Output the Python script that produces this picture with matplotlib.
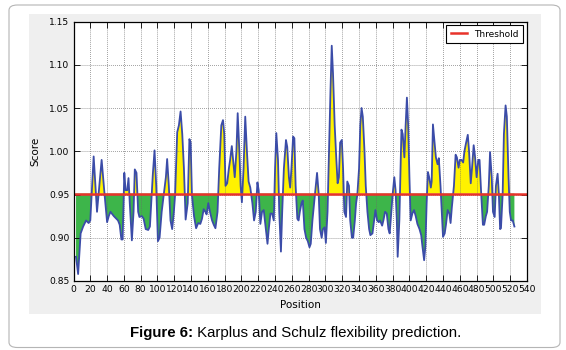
import matplotlib
matplotlib.use("Agg")
import matplotlib.pyplot as plt
import numpy as np
from matplotlib.patches import FancyBboxPatch, Rectangle

# Karplus & Schulz flexibility profile
positions = [3, 5.5, 8.5, 11.5, 15, 18, 20, 24, 28, 33.5, 37, 40, 42, 44, 48, 53, 55, 57, 58.5,
             60.5, 62, 64, 65.5, 67, 69.5, 71.5, 73, 75, 77, 78.5, 81.5, 83.5, 86, 89, 91,
             94.5, 96.5, 98.5, 100.5, 102.5, 105, 107.5, 110, 111.5, 113.5, 115.5, 117.5, 119.5,
             121, 123.5, 125.5, 127.5, 129.5, 131.5, 133.5, 136, 138, 139.5, 141, 143.5, 146,
             148.5, 151, 153, 155, 157, 158.5, 160.5, 162.5, 165, 167, 169, 171.5, 173.5, 176,
             178, 179.5, 181, 183, 185, 186.5, 188.5, 190.5, 192, 194, 195.5, 197.5, 199, 200.5,
             202.5, 204.5, 206.5, 208.5, 210.5, 213, 215, 217, 219, 220.5, 222.5, 224.5, 226.5,
             229, 231, 232.5, 234.5, 236.5, 238.5, 240, 241.5, 243.5, 245, 247, 248.5, 250.5,
             253, 254.5, 256.5, 258, 259.5, 261.5, 263, 264.5, 266.5, 268, 269.5, 271.5, 273,
             275, 277, 279, 281, 282.5, 284.5, 286.5, 288.5, 290, 292, 293.5, 295.5, 297, 299,
             300.5, 302.5, 304, 306, 307.5, 309, 311, 313, 314.5, 316, 317.5, 319.5, 321, 322.5,
             324.5, 326, 328, 329.5, 331.5, 333, 335, 336.5, 338, 340, 341.5, 343, 344.5, 346.5,
             348, 350, 352, 353.5, 356, 358, 359.5, 361.5, 363.5, 365, 367.5, 369, 371, 373, 375,
             376.5, 378.5, 380, 382, 383.5, 385, 386, 388, 389.5, 390.5, 392, 394, 395.5, 397,
             398.5, 400, 401.5, 403.5, 405.5, 407.5, 409.5, 412, 414, 415.5, 417.5, 419, 420.5,
             422, 423.5, 425.5, 426.5, 428, 430, 431.5, 433.5, 435, 437, 438.5, 440, 442, 443.5,
             445.5, 447.5, 449, 450.5, 453, 455, 456.5, 458.5, 460, 462, 464, 465.5, 467.5, 469.5,
             471, 473, 474.5, 476.5, 478, 480, 482, 483.5, 485.5, 487.5, 489, 491, 492.5, 494.5,
             496, 498, 499.5, 501.5, 503, 505, 506.5, 508, 509, 511, 512.5, 514.5, 516, 518,
             519.5, 521, 523, 525]
scores = [0.878, 0.858, 0.905, 0.913, 0.920, 0.917, 0.920, 0.994, 0.930, 0.990, 0.950, 0.918, 0.925,
          0.930, 0.925, 0.920, 0.915, 0.898, 0.898, 0.975, 0.955, 0.955, 0.969, 0.940, 0.897, 0.930,
          0.979, 0.975, 0.930, 0.924, 0.925, 0.922, 0.910, 0.909, 0.913, 0.974, 1.001, 0.960, 0.896,
          0.900, 0.930, 0.950, 0.970, 0.991, 0.960, 0.920, 0.910, 0.930, 0.950, 1.022, 1.030, 1.046,
          1.020, 0.980, 0.921, 0.940, 1.014, 1.010, 0.950, 0.925, 0.911, 0.917, 0.916, 0.922, 0.933,
          0.930, 0.927, 0.940, 0.930, 0.920, 0.915, 0.911, 0.930, 0.980, 1.030, 1.036, 1.020, 0.960,
          0.963, 0.980, 0.990, 1.006, 0.985, 0.970, 1.000, 1.044, 1.000, 0.960, 0.941, 0.980, 1.040,
          1.000, 0.965, 0.958, 0.940, 0.920, 0.930, 0.964, 0.955, 0.916, 0.930, 0.932, 0.910, 0.893,
          0.910, 0.928, 0.928, 0.920, 0.980, 1.021, 0.990, 0.930, 0.884, 0.930, 0.980, 1.013, 1.005,
          0.970, 0.958, 0.980, 1.017, 1.015, 0.960, 0.922, 0.920, 0.930, 0.940, 0.943, 0.910, 0.900,
          0.896, 0.889, 0.893, 0.920, 0.940, 0.960, 0.975, 0.950, 0.910, 0.900, 0.910, 0.912, 0.894,
          0.930, 0.990, 1.070, 1.122, 1.090, 1.030, 0.990, 0.963, 0.970, 1.010, 1.013, 0.980, 0.930,
          0.924, 0.965, 0.960, 0.920, 0.900, 0.900, 0.920, 0.940, 0.950, 0.980, 1.030, 1.050, 1.040,
          1.000, 0.960, 0.930, 0.910, 0.903, 0.905, 0.920, 0.932, 0.920, 0.918, 0.920, 0.914, 0.920,
          0.930, 0.928, 0.910, 0.905, 0.930, 0.950, 0.970, 0.955, 0.920, 0.878, 0.920, 0.980, 1.025,
          1.020, 0.993, 1.030, 1.062, 1.030, 0.970, 0.920, 0.928, 0.932, 0.925, 0.916, 0.910, 0.903,
          0.890, 0.874, 0.890, 0.940, 0.976, 0.970, 0.958, 0.965, 1.031, 1.010, 0.993, 0.985, 0.992,
          0.960, 0.930, 0.901, 0.905, 0.915, 0.932, 0.928, 0.917, 0.935, 0.960, 0.996, 0.993, 0.981,
          0.990, 0.990, 0.987, 1.000, 1.010, 1.019, 1.000, 0.963, 0.980, 1.007, 0.995, 0.970, 0.990,
          0.990, 0.950, 0.915, 0.915, 0.925, 0.930, 0.960, 0.999, 0.970, 0.930, 0.924, 0.960, 0.974,
          0.950, 0.910, 0.911, 0.950, 1.020, 1.053, 1.040, 0.970, 0.930, 0.920, 0.920, 0.913]
threshold = 0.951

xticks = list(range(0, 541, 20))
yticks = [0.85, 0.90, 0.95, 1.00, 1.05, 1.10, 1.15]

x = np.array(positions)
y = np.array(scores)

fig = plt.figure(figsize=(5.66, 3.5), dpi=100)
W, H = 566, 350

# outer rounded frame + gray panel (behind the axes)
frame = FancyBboxPatch((9 / W, 1 - 347.5 / H), (560 - 9) / W, (347.5 - 5) / H,
                       boxstyle="round,pad=0,rounding_size=0.015",
                       transform=fig.transFigure, facecolor="white",
                       edgecolor="#b5b5b5", linewidth=0.8, zorder=-20)
panel = Rectangle((28.5 / W, 1 - 313.5 / H), (541 - 28.5) / W, (313.5 - 14) / H,
                  transform=fig.transFigure, facecolor="#efefef", edgecolor="none", zorder=-10)
fig.patches.extend([frame, panel])

ax = fig.add_axes([73.5 / W, 1 - 281 / H, (527 - 73.5) / W, (281 - 21.5) / H])
ax.set_facecolor("white")

ax.fill_between(x, y, threshold, where=y >= threshold, interpolate=True,
                facecolor="#fff200", edgecolor="none")
ax.fill_between(x, y, threshold, where=y <= threshold, interpolate=True,
                facecolor="#3db54a", edgecolor="none")
ax.plot(x, y, color="#3b4ca8", linewidth=1.3)
ax.axhline(threshold, color="#e8332a", linewidth=1.8, label="Threshold")

ax.set_xlim(0, 540)
ax.set_ylim(0.85, 1.15)
ax.set_xticks(xticks)
ax.set_yticks(yticks)
ax.set_yticklabels([f"{v:.2f}" for v in yticks])
ax.grid(True, linestyle=":", color="#6a6a6a", linewidth=0.55)
ax.tick_params(direction="in", top=True, right=True, length=4, width=0.6,
               labelsize=6.6, pad=3)
for s in ax.spines.values():
    s.set_linewidth(0.9)

ax.set_xlabel("Position", fontsize=7.5, labelpad=4)
ax.set_ylabel("Score", fontsize=7.5, labelpad=6)

leg = ax.legend(loc="upper right", fontsize=6.5, fancybox=False, framealpha=1,
                handlelength=1.8, borderpad=0.5, borderaxespad=0.4)
leg.get_frame().set_edgecolor("black")
leg.get_frame().set_linewidth(0.8)

# caption: bold label followed by normal text
t1 = fig.text(130 / W, 1 - 337 / H, "Figure 6:", fontsize=10.8, fontweight="bold",
              family="Liberation Sans", ha="left", va="baseline")
ax.annotate(" Karplus and Schulz flexibility prediction.", xy=(1, 0), xycoords=t1,
            fontsize=10.8, family="Liberation Sans", ha="left", va="bottom",
            annotation_clip=False)

fig.savefig("out.png", dpi=100, facecolor="white")
